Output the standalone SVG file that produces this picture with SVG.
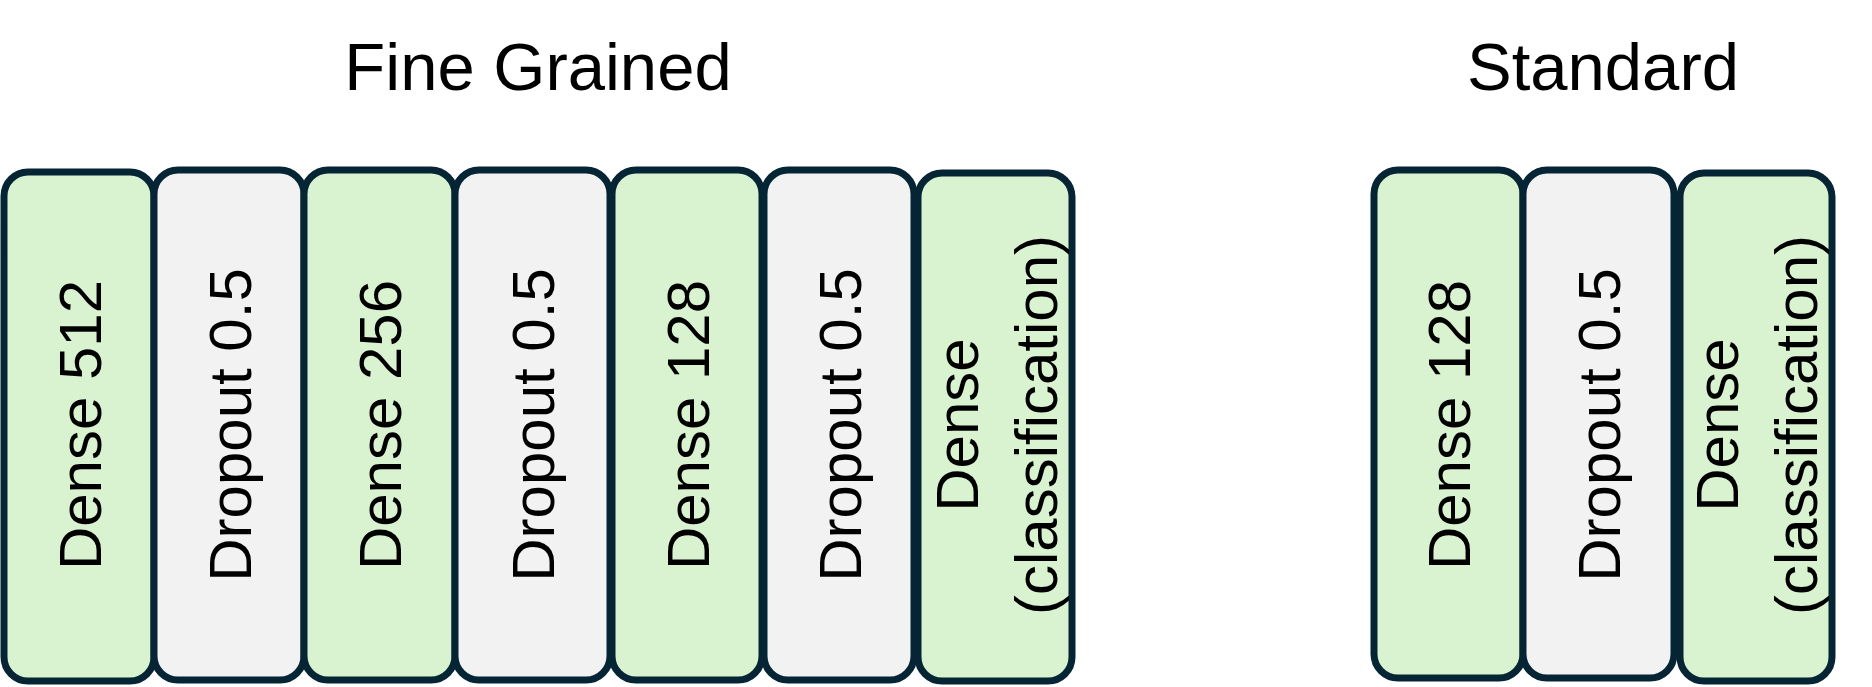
<svg xmlns="http://www.w3.org/2000/svg" width="1872" height="687" viewBox="0 0 1872 687">
<style>
.box{stroke:#052535;stroke-width:7}
.dense{fill:#d9f2d0}
.drop{fill:#f2f2f2}
.lbl{font-family:"Liberation Sans",Arial,sans-serif;font-size:60px;fill:#000;text-anchor:middle}
.title{font-family:"Liberation Sans",Arial,sans-serif;font-size:67px;fill:#000;text-anchor:middle}
</style>
<rect width="1872" height="687" fill="#ffffff"/>
<text class="title" x="538" y="90">Fine Grained</text>
<text class="title" x="1603" y="90">Standard</text>
<g id="fg-dense512"><rect class="box dense" x="4" y="172" width="150" height="509" rx="24"/><text class="lbl" transform="translate(100.5,425) rotate(-90)">Dense 512</text></g>
<g id="fg-dropout1"><rect class="box drop" x="154" y="170" width="150" height="510" rx="24"/><text class="lbl" transform="translate(250.5,425) rotate(-90)">Dropout 0.5</text></g>
<g id="fg-dense256"><rect class="box dense" x="304" y="170" width="151" height="510" rx="24"/><text class="lbl" transform="translate(401,425) rotate(-90)">Dense 256</text></g>
<g id="fg-dropout2"><rect class="box drop" x="455" y="170" width="155" height="510" rx="24"/><text class="lbl" transform="translate(554,425) rotate(-90)">Dropout 0.5</text></g>
<g id="fg-dense128"><rect class="box dense" x="612" y="170" width="150" height="510" rx="24"/><text class="lbl" transform="translate(708.5,425) rotate(-90)">Dense 128</text></g>
<g id="fg-dropout3"><rect class="box drop" x="764" y="170" width="150" height="510" rx="24"/><text class="lbl" transform="translate(860.5,425) rotate(-90)">Dropout 0.5</text></g>
<g id="fg-classification"><rect class="box dense" x="918" y="173" width="154" height="508" rx="24"/><text class="lbl" transform="translate(978,425) rotate(-90)"><tspan x="0" y="0">Dense</tspan><tspan x="0" y="79">(classification)</tspan></text></g>
<g id="st-dense128"><rect class="box dense" x="1374" y="170" width="149" height="508" rx="24"/><text class="lbl" transform="translate(1470,425) rotate(-90)">Dense 128</text></g>
<g id="st-dropout"><rect class="box drop" x="1523" y="170" width="151" height="508" rx="24"/><text class="lbl" transform="translate(1620,425) rotate(-90)">Dropout 0.5</text></g>
<g id="st-classification"><rect class="box dense" x="1680" y="173" width="152" height="508" rx="24"/><text class="lbl" transform="translate(1738,425) rotate(-90)"><tspan x="0" y="0">Dense</tspan><tspan x="0" y="79">(classification)</tspan></text></g>
<g id="connectors"></g>
</svg>
